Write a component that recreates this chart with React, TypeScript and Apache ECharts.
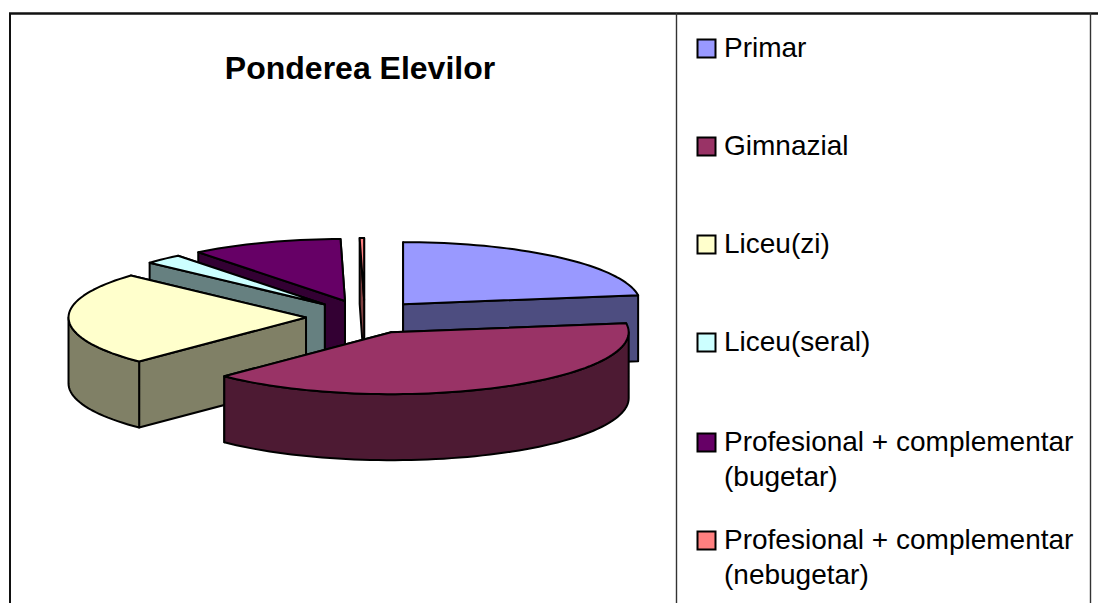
import React, { useEffect, useRef } from "react";
import * as echarts from "echarts";

const titleText = "Ponderea Elevilor";
const categories = [
  "Primar",
  "Gimnazial",
  "Liceu(zi)",
  "Liceu(seral)",
  "Profesional + complementar\n(bugetar)",
  "Profesional + complementar\n(nebugetar)",
];
const shares = [22.7, 39.7, 24.4, 2.6, 10.3, 0.3];
const topColors = ["#9999FF", "#993366", "#FFFFCC", "#CCFFFF", "#660066", "#FF8080"];
const sideColors = ["#4D4D80", "#4D1A33", "#808066", "#668080", "#330033", "#804040"];
const paintOrder = [4, 5, 3, 0, 2, 1];
const legendIconTops = [39, 137, 235, 333, 433, 531];

const CX = 364.7;
const CY = 317;
const RX = 237.5;
const RY = 62;
const EXPLODE_X = 58.7;
const EXPLODE_Y = 17;
const DEPTH = 66;
const total = shares.reduce((a, b) => a + b, 0);

function renderSlice(params: any, api: any) {
  const i = params.dataIndex;
  const value = api.value(0);
  let before = 0;
  for (let k = 0; k < i; k++) before += shares[k];
  const t0 = (before / total) * Math.PI * 2;
  const t1 = ((before + value) / total) * Math.PI * 2;
  const mid = (t0 + t1) / 2;
  const ax = CX + Math.sin(mid) * EXPLODE_X;
  const ay = CY - Math.cos(mid) * EXPLODE_Y;
  const pt = (t: number) => [ax + Math.sin(t) * RX, ay - Math.cos(t) * RY];
  const arc = (a: number, b: number) => {
    const n = Math.max(2, Math.ceil(((b - a) / Math.PI) * 90));
    const out: number[][] = [];
    for (let k = 0; k <= n; k++) out.push(pt(a + ((b - a) * k) / n));
    return out;
  };
  const z2 = paintOrder.indexOf(i) * 10;
  const lineStyle = (fill: string) => ({ fill, stroke: "#000", lineWidth: 2, lineJoin: "round" });
  const quad = (t: number) => {
    const p = pt(t);
    return [[ax, ay], p, [p[0], p[1] + DEPTH], [ax, ay + DEPTH]];
  };
  const cuts = [t0, t1].sort((a, b) => pt(a)[1] - pt(b)[1]);
  const children: any[] = cuts.map((t, k) => ({
    type: "polygon",
    z2: z2 + k,
    shape: { points: quad(t) },
    style: lineStyle(sideColors[i]),
    silent: true,
  }));
  const s = Math.max(t0, Math.PI / 2);
  const e = Math.min(t1, Math.PI * 1.5);
  if (e > s) {
    const upper = arc(s, e);
    const lower = upper.map((p) => [p[0], p[1] + DEPTH]).reverse();
    children.push({
      type: "polygon",
      z2: z2 + 3,
      shape: { points: upper.concat(lower) },
      style: lineStyle(sideColors[i]),
      silent: true,
    });
  }
  children.push({
    type: "polygon",
    z2: z2 + 4,
    shape: { points: [[ax, ay] as number[]].concat(arc(t0, t1)) },
    style: lineStyle(topColors[i]),
    silent: true,
  });
  return { type: "group", children };
}

const frameLines = [
  { x1: 9, y1: 13.5, x2: 1098, y2: 13.5, width: 2.4, color: "#111" },
  { x1: 10, y1: 13, x2: 10, y2: 603, width: 2, color: "#111" },
  { x1: 676.5, y1: 13, x2: 676.5, y2: 603, width: 1.4, color: "#333" },
  { x1: 1090.5, y1: 13, x2: 1090.5, y2: 603, width: 1.4, color: "#333" },
];

export default function App() {
  const ref = useRef<HTMLDivElement>(null);
  useEffect(() => {
    document.body.style.margin = "0";
    const chart = echarts.init(ref.current!, undefined, { renderer: "svg" });
    const legendElements: any[] = [];
    categories.forEach((name, i) => {
      const top = legendIconTops[i];
      legendElements.push({
        type: "rect",
        shape: { x: 697.5, y: top + 0.5, width: 18, height: 18 },
        style: { fill: topColors[i], stroke: "#000", lineWidth: 2 },
        silent: true,
      });
      legendElements.push({
        type: "text",
        x: 724,
        y: top + 8 - 17.5,
        style: {
          text: name,
          fill: "#000",
          font: '28px "Liberation Sans", Arial, sans-serif',
          lineHeight: 35,
          textAlign: "left",
          textVerticalAlign: "top",
        },
        silent: true,
      });
    });
    chart.setOption({
      animation: false,
      backgroundColor: "#fff",
      title: {
        text: titleText,
        left: 355,
        top: 63,
        textAlign: "center",
        textVerticalAlign: "middle",
        textStyle: {
          fontFamily: '"Liberation Sans", Arial, sans-serif',
          fontWeight: "bold",
          fontSize: 32,
          color: "#000",
        },
      },
      graphic: {
        elements: [
          ...frameLines.map((l) => ({
            type: "line",
            shape: { x1: l.x1, y1: l.y1, x2: l.x2, y2: l.y2 },
            style: { stroke: l.color, lineWidth: l.width },
            silent: true,
          })),
          ...legendElements,
        ],
      },
      series: [
        {
          type: "custom",
          coordinateSystem: "none",
          clip: false,
          silent: true,
          renderItem: renderSlice,
          data: shares.map((v) => [v]),
        },
      ],
    });
    return () => chart.dispose();
  }, []);
  return (
    <div
      ref={ref}
      style={{ position: "absolute", left: 0, top: 0, width: 1098, height: 603 }}
    />
  );
}
